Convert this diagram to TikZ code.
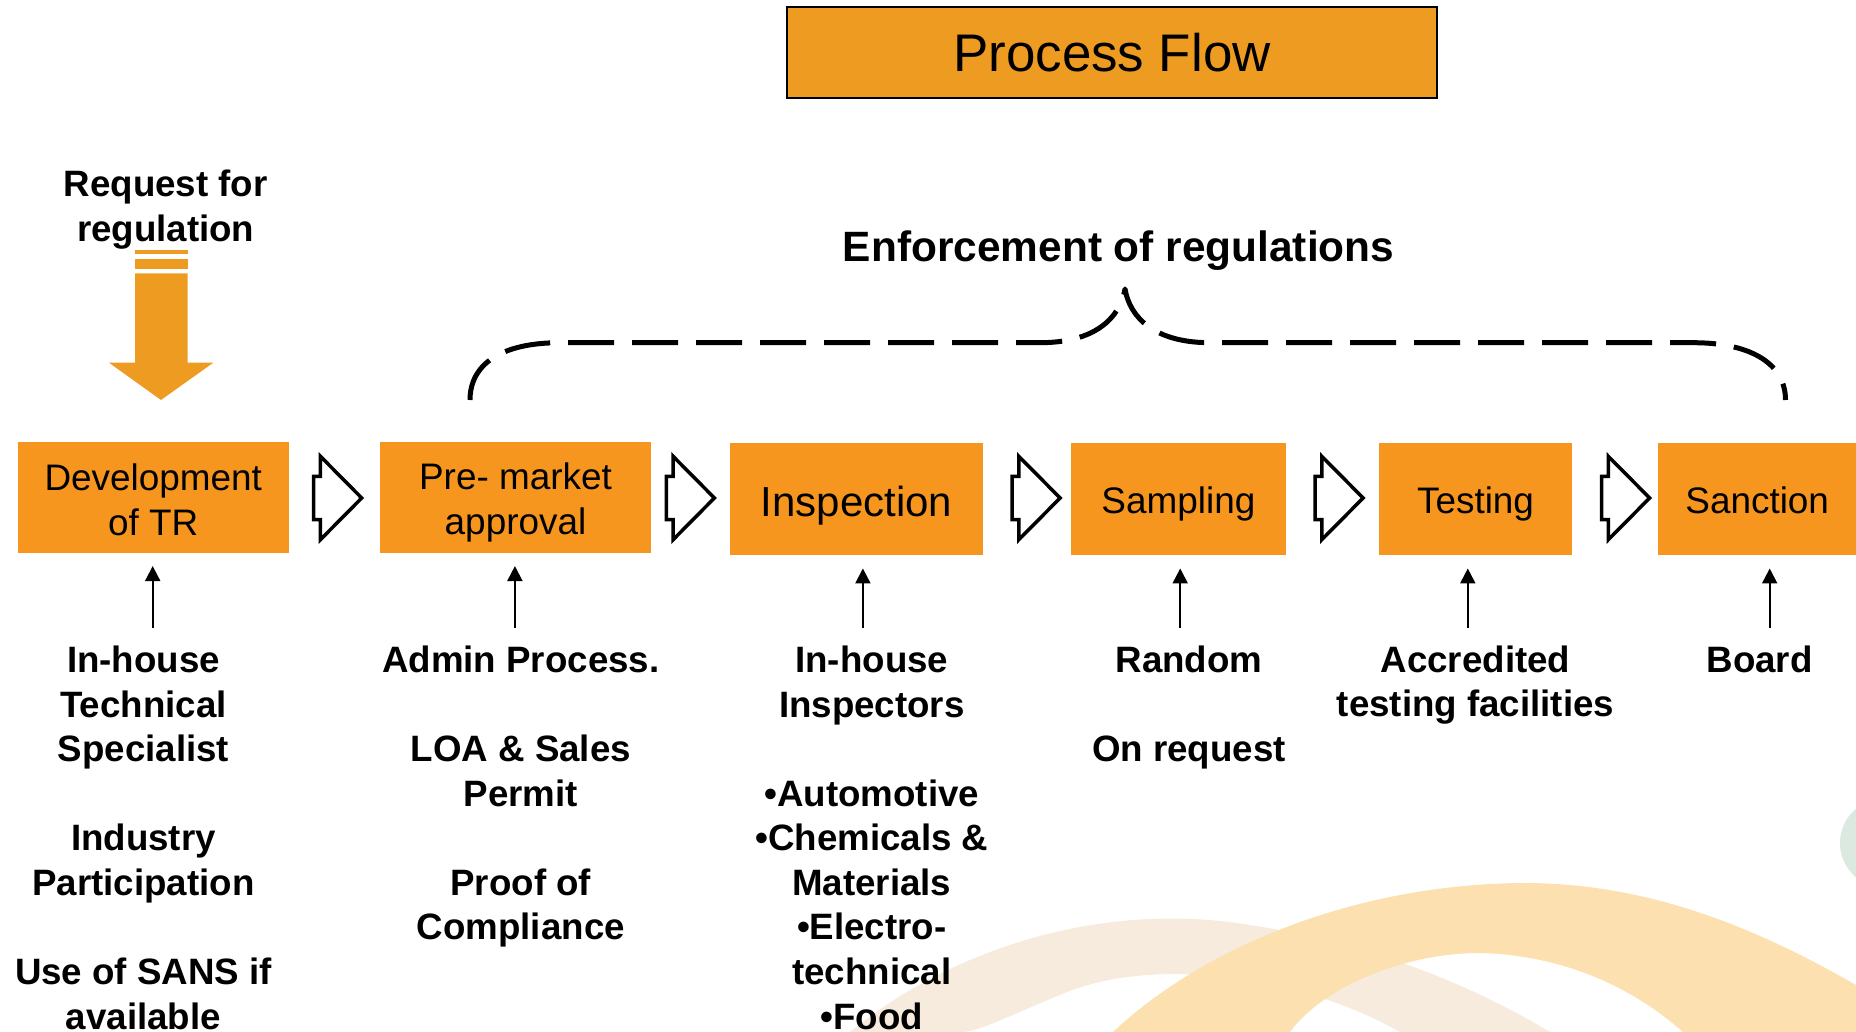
\documentclass[tikz,border=0pt]{standalone}
\usepackage{fontspec}
\setmainfont{Liberation Sans}
\usetikzlibrary {arrows.meta}
\usetikzlibrary{calc}

\definecolor{titleorange}{RGB}{238,155,34}
\definecolor{steporange}{RGB}{247,150,30}
\definecolor{swooshorange}{RGB}{252,224,176}
\definecolor{swooshtan}{RGB}{246,235,220}
\definecolor{swooshgreen}{RGB}{220,233,225}

\begin{document}
\begin{tikzpicture}[x=1pt,y=-1pt,
	stepbox/.style={fill=steporange, inner sep=0pt, align=center, font=\fontsize{36.9}{45}\selectfont},
	oneline/.style={text depth=0pt, text height=#1},
	notetext/.style={anchor=north, inner sep=0pt, align=center, font=\bfseries\fontsize{36.7}{44.6}\selectfont},
	uparrow/.style={line width=2pt, -{Triangle[length=15pt,width=15pt]}, shorten >=13pt},
	brace/.style={line width=5pt, line join=round, dash pattern=on 46pt off 18pt}]
	\clip (0,0) rectangle (1856,1032);

	% background swooshes
	\fill[swooshtan] (850,1032) .. controls (950,950) and (1100,900) .. (1250,925) .. controls (1380,945) and (1480,990) .. (1550,1032) -- (1400,1032) .. controls (1300,975) and (1150,955) .. (1060,995) .. controls (1010,1015) and (980,1032) .. (960,1032) -- cycle;
	\fill[swooshorange] (1113,1032) .. controls (1200,950) and (1350,885) .. (1520,883) .. controls (1650,882) and (1760,930) .. (1856,985) -- (1856,1032) -- (1683,1032) .. controls (1630,985) and (1560,955) .. (1480,953) .. controls (1400,953) and (1320,990) .. (1290,1032) -- cycle;
	\fill[swooshgreen] (1885,843) circle (45);

	% title
	\node[draw=black, line width=2pt, fill=titleorange, minimum width=650pt, minimum height=91pt, font=\fontsize{52.9}{60}\selectfont] (title) at (1112,52.5) {Process Flow};

	% request
	\node[notetext] (request) at (165.7,169.7) {Request for\\regulation};
	\fill[titleorange] (135,250) rectangle (187.7,254.3);
	\fill[titleorange] (135,259) rectangle (187.7,268.7);
	\fill[titleorange] (135,273.3) -- (187.7,273.3) -- (187.7,362.7) -- (213.3,362.7) -- (161,400) -- (109,362.7) -- (135,362.7) -- cycle;

	% enforcement brace
	\node[font=\bfseries\fontsize{42.4}{50}\selectfont, anchor=base, inner sep=0pt] (enforce) at (1118.6,261.4) {Enforcement of regulations};
	\draw[brace] (470,400) .. controls (470,365) and (500,342.7) .. (560,342.7) -- (1040,342.7) .. controls (1095,342.7) and (1120,318) .. (1125,289) .. controls (1130,318) and (1155,342.7) .. (1210,342.7) -- (1693,342.7) .. controls (1753,342.7) and (1785.5,365) .. (1785.5,400);

	% steps
	\node[stepbox, minimum width=271pt, minimum height=111.3pt] (devtr) at (153.3,497.2) {\rule{0pt}{31.7pt}Development\\of TR};
	\node[stepbox, minimum width=271pt, minimum height=111.3pt] (premarket) at (515.5,497.2) {\rule{0pt}{36.3pt}Pre- market\\approval};
	\node[stepbox, oneline=34pt, minimum width=252.2pt, minimum height=112.5pt, font=\fontsize{42}{48}\selectfont] (inspection) at (856.4,499) {Inspection};
	\node[stepbox, oneline=29pt, minimum width=214.3pt, minimum height=112.5pt] (sampling) at (1178.4,499) {Sampling};
	\node[stepbox, oneline=29pt, minimum width=193pt, minimum height=112.5pt] (testing) at (1475.5,499) {Testing};
	\node[stepbox, oneline=29pt, minimum width=197.6pt, minimum height=112.5pt] (sanction) at (1757.2,499) {Sanction};

	% hollow arrows between steps
	\foreach \ax in {313.7,666.4,1012.1,1315.1,1601.6}
		\draw[line width=3.5pt, fill=white] (\ax+6.7,456.3) -- (\ax+48,498) -- (\ax+6.7,539.7) -- (\ax+6.7,519.6) -- (\ax,519.6) -- (\ax,476.4) -- (\ax+6.7,476.4) -- cycle;

	% inputs
	\coordinate (devin) at (152.7,627.5);
	\coordinate (prein) at (514.9,627.5);
	\coordinate (inspin) at (862.9,627.5);
	\coordinate (sampin) at (1180.2,627.5);
	\coordinate (testin) at (1467.8,627.5);
	\coordinate (sancin) at (1769.7,627.5);
	\draw[uparrow] (devin) -- (devin |- devtr.south);
	\draw[uparrow] (prein) -- (prein |- premarket.south);
	\draw[uparrow] (inspin) -- (inspin |- inspection.south);
	\draw[uparrow] (sampin) -- (sampin |- sampling.south);
	\draw[uparrow] (testin) -- (testin |- testing.south);
	\draw[uparrow] (sancin) -- (sancin |- sanction.south);

	\node[notetext] (devnote) at (143.5,645.6) {In-house\\Technical\\Specialist\\[44.6pt]Industry\\Participation\\[44.6pt]Use of SANS if\\available};
	\node[notetext] (prenote) at (520.8,645.6) {Admin Process.\\[44.6pt]LOA \& Sales\\Permit\\[44.6pt]Proof of\\Compliance};
	\node[notetext] (inspnote) at (871.8,645.6) {In-house\\Inspectors\\[44.6pt]•Automotive\\•Chemicals \&\\Materials\\•Electro-\\technical\\•Food};
	\node[notetext] (sampnote) at (1189,645.6) {Random\\[44.6pt]On request};
	\node[notetext] (testnote) at (1475.5,645.6) {Accredited\\testing facilities};
	\node[notetext] (sancnote) at (1759.6,645.6) {Board};
\end{tikzpicture}
\end{document}
